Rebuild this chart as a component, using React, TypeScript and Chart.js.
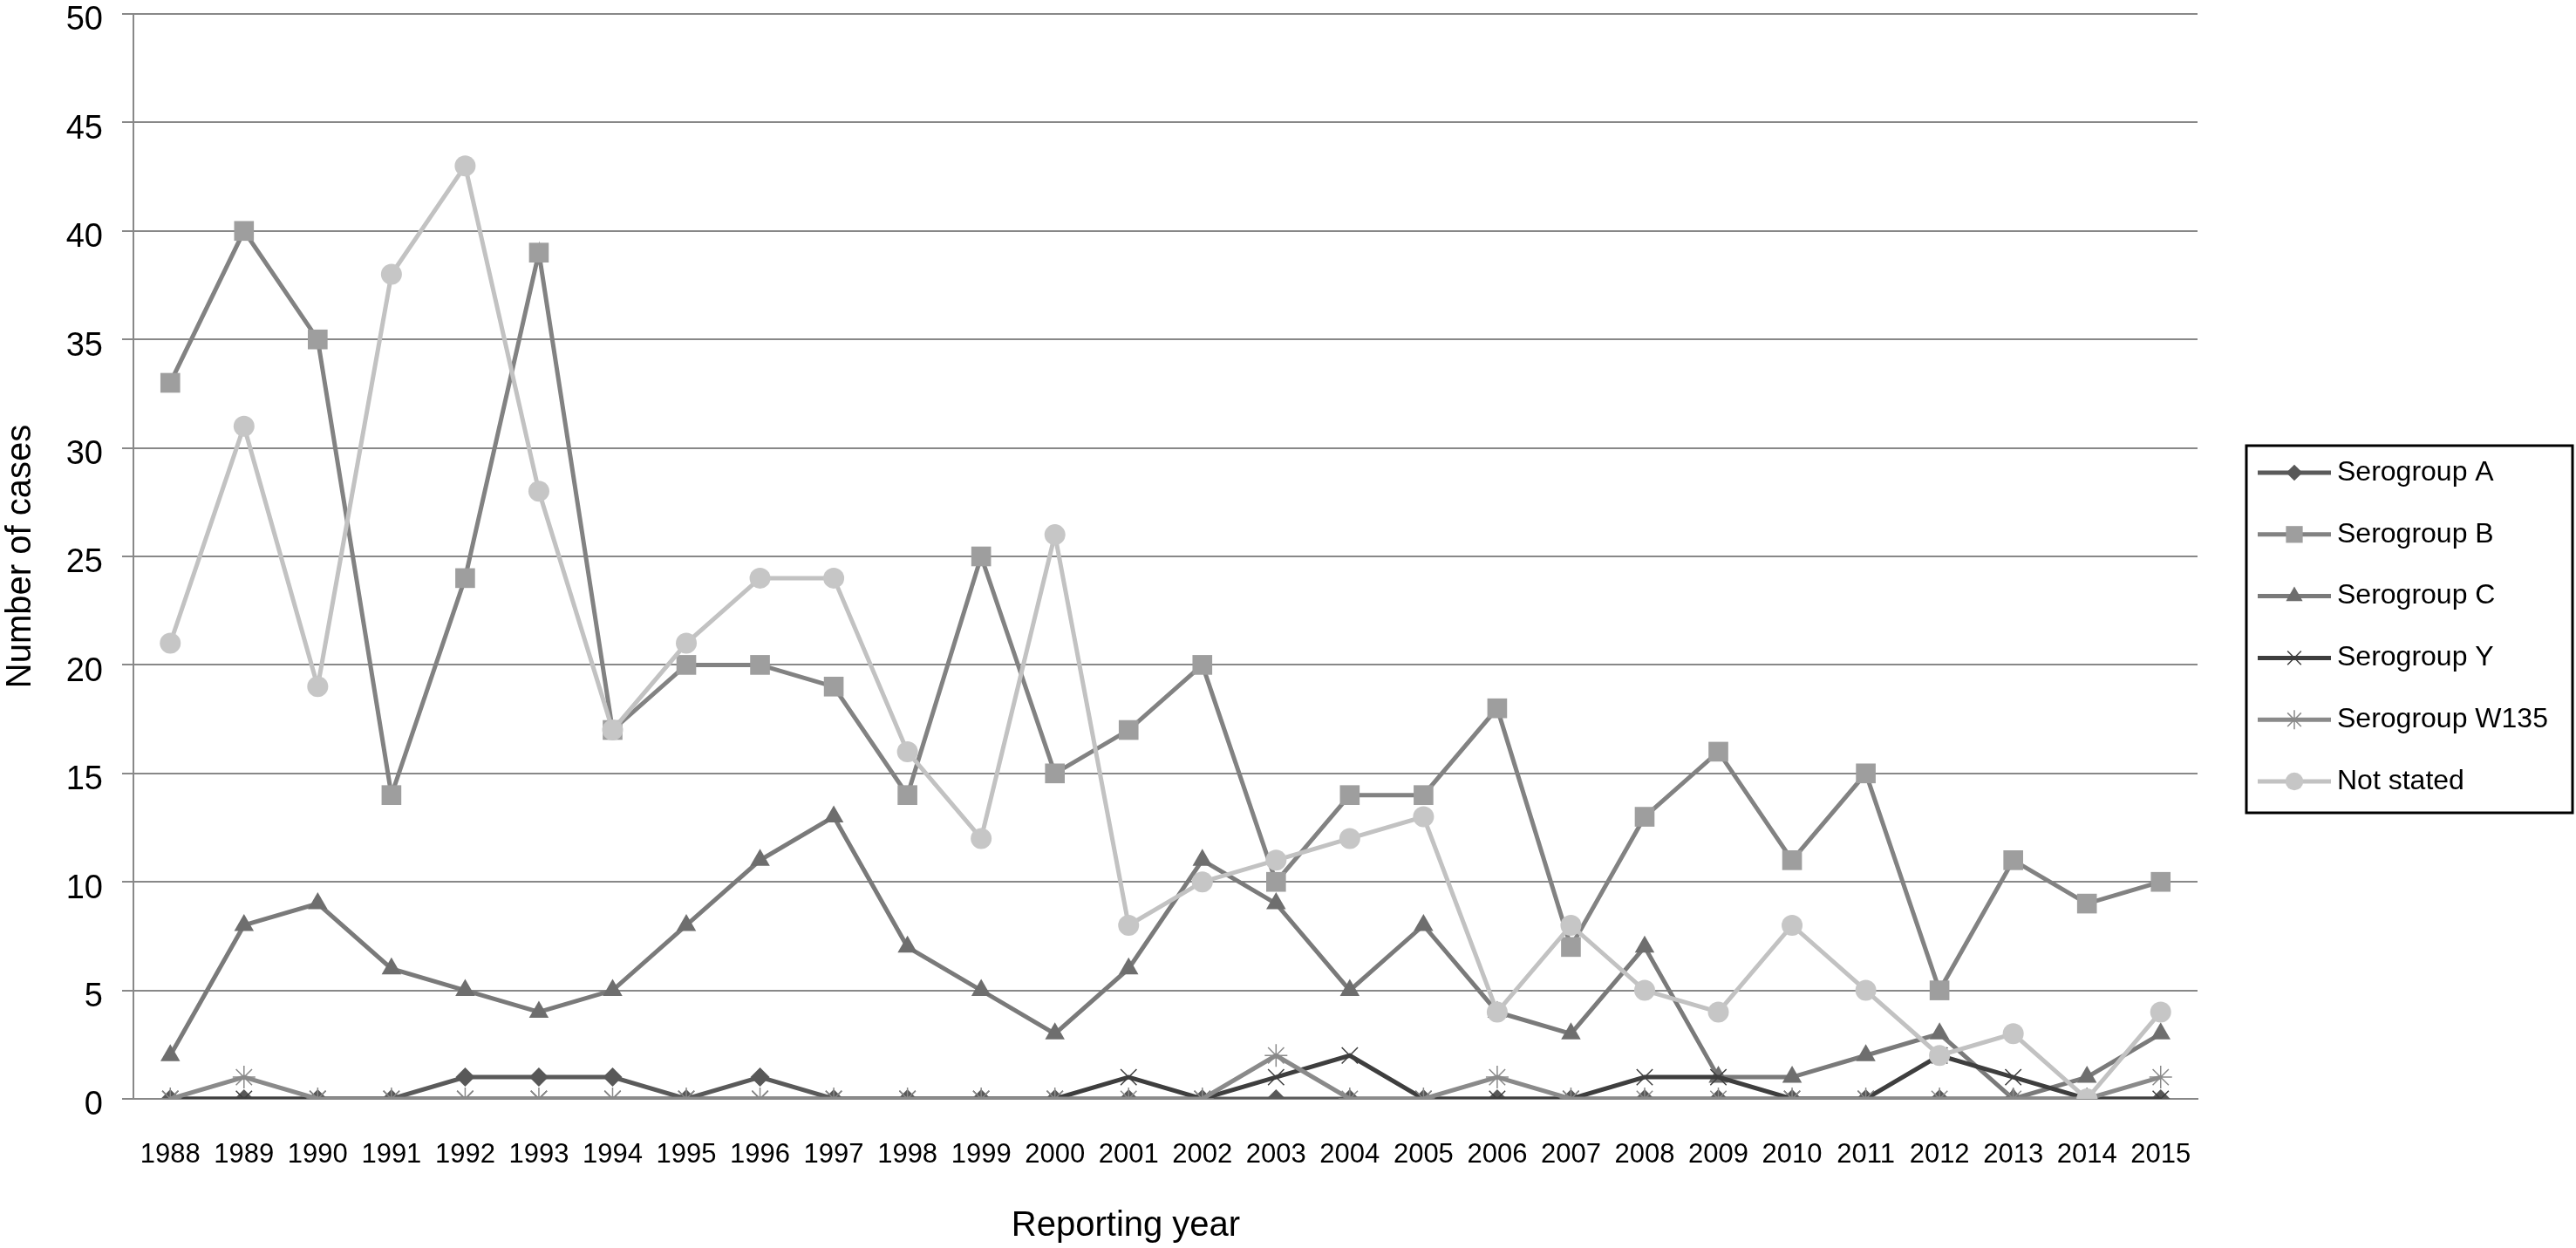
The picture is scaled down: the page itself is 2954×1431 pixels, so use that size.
import React, { useEffect, useRef } from 'react';
import { Chart, registerables } from 'chart.js';
import { drawPoint } from 'chart.js/helpers';

Chart.register(...registerables);

const years = ['1988', '1989', '1990', '1991', '1992', '1993', '1994', '1995', '1996', '1997', '1998', '1999', '2000', '2001', '2002', '2003', '2004', '2005', '2006', '2007', '2008', '2009', '2010', '2011', '2012', '2013', '2014', '2015'];

const serogroupA = [0, 0, 0, 0, 1, 1, 1, 0, 1, 0, 0, 0, 0, 0, 0, 0, 0, 0, 0, 0, 0, 0, 0, 0, 0, 0, 0, 0];
const serogroupB = [33, 40, 35, 14, 24, 39, 17, 20, 20, 19, 14, 25, 15, 17, 20, 10, 14, 14, 18, 7, 13, 16, 11, 15, 5, 11, 9, 10];
const serogroupC = [2, 8, 9, 6, 5, 4, 5, 8, 11, 13, 7, 5, 3, 6, 11, 9, 5, 8, 4, 3, 7, 1, 1, 2, 3, 0, 1, 3];
const serogroupY = [0, 0, 0, 0, 0, 0, 0, 0, 0, 0, 0, 0, 0, 1, 0, 1, 2, 0, 0, 0, 1, 1, 0, 0, 2, 1, 0, 0];
const serogroupW135 = [0, 1, 0, 0, 0, 0, 0, 0, 0, 0, 0, 0, 0, 0, 0, 2, 0, 0, 1, 0, 0, 0, 0, 0, 0, 0, 0, 1];
const notStated = [21, 31, 19, 38, 43, 28, 17, 21, 24, 24, 16, 12, 26, 8, 10, 11, 12, 13, 4, 8, 5, 4, 8, 5, 2, 3, 0, 4];

const seriesNames = ['Serogroup A', 'Serogroup B', 'Serogroup C', 'Serogroup Y', 'Serogroup W135', 'Not stated'];
const seriesValues = [serogroupA, serogroupB, serogroupC, serogroupY, serogroupW135, notStated];

const yTitle = 'Number of cases';
const xTitle = 'Reporting year';

const FONT = '"Liberation Sans", Arial, Helvetica, sans-serif';

const seriesStyles = [
  { line: '#5a5a5a', fill: '#585858', stroke: '#585858', pointStyle: 'rectRot', radius: 11, pbw: 0 },
  { line: '#828282', fill: '#9e9e9e', stroke: '#9e9e9e', pointStyle: 'rect', radius: 16, pbw: 0 },
  { line: '#7a7a7a', fill: '#6e6e6e', stroke: '#6e6e6e', pointStyle: 'triangle', radius: 13, pbw: 0 },
  { line: '#3e3e3e', fill: '#3e3e3e', stroke: '#3e3e3e', pointStyle: 'crossRot', radius: 13, pbw: 1.5 },
  { line: '#8a8a8a', fill: '#8a8a8a', stroke: '#8a8a8a', pointStyle: 'star', radius: 13, pbw: 1.5 },
  { line: '#c2c2c2', fill: '#c6c6c6', stroke: '#c6c6c6', pointStyle: 'circle', radius: 12, pbw: 0 },
];

const customPlugin = {
  id: 'customDecor',
  afterDraw(chart: any) {
    const ctx = chart.ctx as CanvasRenderingContext2D;
    ctx.save();
    // x-axis title
    ctx.fillStyle = '#000';
    ctx.font = `40px ${FONT}`;
    ctx.textAlign = 'center';
    ctx.textBaseline = 'middle';
    ctx.fillText(xTitle, 1291, 1406);

    // legend box
    ctx.strokeStyle = '#000';
    ctx.lineWidth = 3;
    ctx.strokeRect(2576, 511, 2950 - 2576, 932 - 511);

    chart.data.datasets.forEach((ds: any, i: number) => {
      const st = seriesStyles[i];
      const y = 542 + i * 70.8;
      ctx.strokeStyle = st.line;
      ctx.lineWidth = 5;
      ctx.beginPath();
      ctx.moveTo(2589, y);
      ctx.lineTo(2673, y);
      ctx.stroke();
      ctx.fillStyle = st.fill;
      ctx.strokeStyle = st.stroke;
      ctx.lineWidth = st.pbw || 1;
      drawPoint(ctx, { pointStyle: st.pointStyle, radius: st.radius * 0.85, borderWidth: st.pbw, rotation: 0 } as any, 2631, y);
      ctx.fillStyle = '#000';
      ctx.font = `32px ${FONT}`;
      ctx.textAlign = 'left';
      ctx.textBaseline = 'middle';
      ctx.fillText(ds.label, 2680, y);
    });
    ctx.restore();
  },
};

export default function App() {
  const ref = useRef<HTMLCanvasElement>(null);

  useEffect(() => {
    document.body.style.margin = '0';
    const n = seriesNames.length;
    const datasets = seriesNames.map((name, i) => {
      const st = seriesStyles[i];
      return {
        label: name,
        data: seriesValues[i],
        borderColor: st.line,
        backgroundColor: st.fill,
        borderWidth: 5,
        pointStyle: st.pointStyle,
        pointRadius: st.radius,
        pointHoverRadius: st.radius,
        pointBackgroundColor: st.fill,
        pointBorderColor: st.stroke,
        pointBorderWidth: st.pbw,
        tension: 0,
        fill: false,
        order: n - i,
      };
    });

    const chart = new Chart(ref.current!, {
      type: 'line',
      data: { labels: years, datasets: datasets as any },
      plugins: [customPlugin],
      options: {
        responsive: false,
        animation: false,
        maintainAspectRatio: false,
        layout: { padding: { top: 9, right: 434, bottom: 0, left: 0 } },
        plugins: {
          legend: { display: false },
          tooltip: { enabled: false },
          title: { display: false },
        },
        scales: {
          x: {
            type: 'category',
            offset: true,
            grid: { display: false, drawTicks: false },
            border: { display: true, color: '#888888', width: 2 },
            ticks: {
              font: { family: FONT, size: 31 },
              color: '#000',
              padding: 46,
              maxRotation: 0,
              autoSkip: false,
            },
            afterFit: (scale: any) => {
              scale.height = 171;
              scale.paddingLeft = 0;
              scale.paddingRight = 0;
            },
          },
          y: {
            min: 0,
            max: 50,
            grid: { color: '#888888', lineWidth: 2, tickLength: 13, drawTicks: true },
            border: { display: true, color: '#888888', width: 2 },
            ticks: {
              stepSize: 5,
              font: { family: FONT, size: 38 },
              color: '#000',
              padding: 22,
              labelOffset: 8,
            },
            title: {
              display: true,
              text: yTitle,
              font: { family: FONT, size: 40 },
              color: '#000',
              padding: { top: 0, bottom: 0 },
            },
            afterFit: (scale: any) => {
              scale.width = 153;
              scale.paddingTop = 0;
              scale.paddingBottom = 0;
            },
          },
        },
      },
    });
    return () => chart.destroy();
  }, []);

  return (
    <div style={{ width: 2954, height: 1431 }}>
      <canvas ref={ref} width={2954} height={1431} style={{ display: 'block', width: 2954, height: 1431 }} />
    </div>
  );
}
